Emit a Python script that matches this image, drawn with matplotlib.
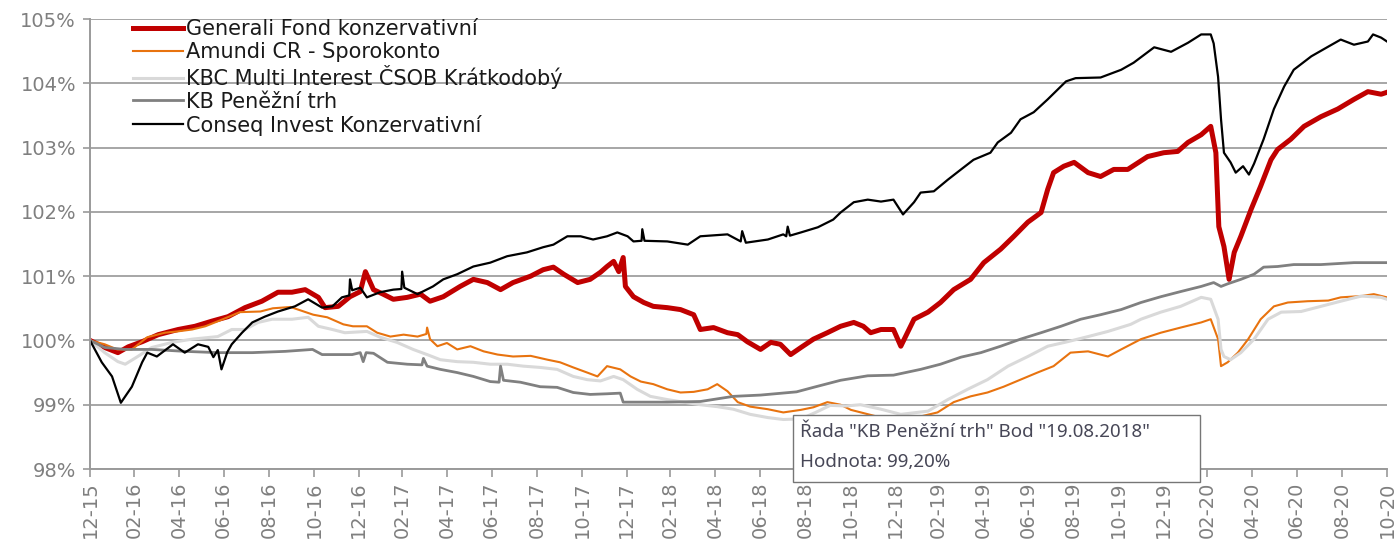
import pandas as pd
import matplotlib
matplotlib.use('Agg')
import matplotlib.pyplot as plt
from matplotlib.patches import Rectangle

# Series (values in % of the start value)
generali_dates = ['2015-12-31', '2016-01-20', '2016-02-07', '2016-02-21', '2016-03-11', '2016-04-02', '2016-04-29',
                  '2016-05-22', '2016-06-14', '2016-07-06', '2016-07-29', '2016-08-21', '2016-09-12', '2016-10-01',
                  '2016-10-19', '2016-11-06', '2016-11-15', '2016-12-03', '2016-12-19', '2017-01-02', '2017-01-09',
                  '2017-01-20', '2017-02-02', '2017-02-16', '2017-03-07', '2017-03-25', '2017-04-07', '2017-04-25',
                  '2017-05-18', '2017-06-05', '2017-06-24', '2017-07-12', '2017-07-29', '2017-08-22', '2017-09-08',
                  '2017-09-22', '2017-10-06', '2017-10-25', '2017-11-11', '2017-11-25', '2017-12-04', '2017-12-13',
                  '2017-12-20', '2017-12-26', '2017-12-29', '2018-01-09', '2018-01-23', '2018-02-05', '2018-02-24',
                  '2018-03-14', '2018-04-01', '2018-04-10', '2018-04-28', '2018-05-17', '2018-05-31', '2018-06-13',
                  '2018-07-01', '2018-07-15', '2018-07-28', '2018-08-11', '2018-08-25', '2018-09-11', '2018-09-30',
                  '2018-10-18', '2018-11-05', '2018-11-18', '2018-11-28', '2018-12-12', '2018-12-29', '2019-01-08',
                  '2019-01-26', '2019-02-14', '2019-03-03', '2019-03-21', '2019-04-13', '2019-05-01', '2019-05-24',
                  '2019-06-11', '2019-06-30', '2019-07-18', '2019-07-27', '2019-08-04', '2019-08-18', '2019-09-01',
                  '2019-09-20', '2019-10-07', '2019-10-25', '2019-11-13', '2019-12-10', '2020-01-01', '2020-01-20',
                  '2020-02-03', '2020-02-21', '2020-03-05', '2020-03-12', '2020-03-16', '2020-03-23', '2020-03-30',
                  '2020-04-06', '2020-04-15', '2020-04-29', '2020-05-12', '2020-05-26', '2020-06-04', '2020-06-22',
                  '2020-07-10', '2020-08-02', '2020-08-25', '2020-09-16', '2020-10-05', '2020-10-23', '2020-10-31']
generali_vals = [100.00, 99.89, 99.81, 99.90, 99.98, 100.09, 100.17,
                 100.22, 100.30, 100.37, 100.51, 100.61, 100.75, 100.75,
                 100.79, 100.67, 100.51, 100.53, 100.68, 100.76, 101.07,
                 100.79, 100.72, 100.64, 100.67, 100.72, 100.61, 100.68,
                 100.84, 100.95, 100.90, 100.79, 100.90, 101.00, 101.10,
                 101.14, 101.03, 100.90, 100.95, 101.06, 101.15, 101.23,
                 101.07, 101.29, 100.84, 100.68, 100.59, 100.53, 100.51,
                 100.48, 100.40, 100.17, 100.20, 100.12, 100.09, 99.98,
                 99.86, 99.97, 99.94, 99.78, 99.89, 100.02, 100.12,
                 100.22, 100.28, 100.22, 100.12, 100.17, 100.17, 99.91,
                 100.33, 100.44, 100.59, 100.79, 100.95, 101.21, 101.42,
                 101.62, 101.84, 101.99, 102.35, 102.61, 102.71, 102.77,
                 102.61, 102.55, 102.66, 102.66, 102.86, 102.92, 102.94,
                 103.08, 103.20, 103.33, 102.92, 101.77, 101.46, 100.95,
                 101.37, 101.62, 102.04, 102.40, 102.81, 102.97, 103.13,
                 103.33, 103.48, 103.60, 103.75, 103.87, 103.83, 103.86]

amundi_dates = ['2015-12-31', '2016-01-20', '2016-02-06', '2016-02-26', '2016-03-18', '2016-04-11', '2016-04-28',
                '2016-05-18', '2016-06-05', '2016-06-29', '2016-07-22', '2016-08-19', '2016-09-05', '2016-09-29',
                '2016-10-30', '2016-11-18', '2016-12-10', '2016-12-23', '2017-01-11', '2017-01-25', '2017-02-12',
                '2017-03-02', '2017-03-21', '2017-04-02', '2017-04-03', '2017-04-07', '2017-04-17', '2017-04-30',
                '2017-05-14', '2017-06-01', '2017-06-19', '2017-07-08', '2017-07-29', '2017-08-22', '2017-09-14',
                '2017-10-01', '2017-10-19', '2017-11-07', '2017-11-21', '2017-12-04', '2017-12-22', '2018-01-05',
                '2018-01-19', '2018-02-05', '2018-02-24', '2018-03-14', '2018-04-01', '2018-04-20', '2018-05-03',
                '2018-05-17', '2018-05-31', '2018-06-17', '2018-07-11', '2018-08-01', '2018-08-25', '2018-09-11',
                '2018-09-30', '2018-10-18', '2018-11-01', '2018-12-12', '2019-01-21', '2019-02-27', '2019-03-21',
                '2019-04-13', '2019-05-06', '2019-05-28', '2019-06-20', '2019-07-13', '2019-08-04', '2019-08-27',
                '2019-09-20', '2019-10-17', '2019-11-04', '2019-12-01', '2019-12-28', '2020-01-24', '2020-02-21',
                '2020-03-05', '2020-03-15', '2020-03-19', '2020-03-28', '2020-04-11', '2020-04-25', '2020-05-12',
                '2020-05-30', '2020-06-18', '2020-07-15', '2020-08-12', '2020-08-29', '2020-09-26', '2020-10-13',
                '2020-10-31']
amundi_vals = [100.00, 99.94, 99.86, 99.86, 100.05, 100.12, 100.14,
               100.17, 100.22, 100.33, 100.44, 100.45, 100.50, 100.52,
               100.40, 100.36, 100.25, 100.22, 100.22, 100.12, 100.06,
               100.09, 100.06, 100.10, 100.20, 100.02, 99.91, 99.96,
               99.86, 99.91, 99.83, 99.78, 99.75, 99.76, 99.70,
               99.66, 99.58, 99.50, 99.44, 99.60, 99.55, 99.44,
               99.36, 99.32, 99.24, 99.19, 99.20, 99.24, 99.32,
               99.21, 99.04, 98.97, 98.93, 98.88, 98.92, 98.96,
               99.04, 99.00, 98.92, 98.80, 98.78, 98.88, 99.04,
               99.13, 99.19, 99.28, 99.39, 99.50, 99.60, 99.81,
               99.83, 99.75, 99.86, 100.02, 100.12, 100.20, 100.28,
               100.33, 100.02, 99.60, 99.66, 99.81, 100.02, 100.33,
               100.53, 100.59, 100.61, 100.62, 100.67, 100.69, 100.72,
               100.67]

kbc_dates = ['2015-12-31', '2016-01-20', '2016-02-07', '2016-02-17', '2016-03-05', '2016-03-24', '2016-04-21',
             '2016-05-18', '2016-06-22', '2016-07-11', '2016-07-29', '2016-08-16', '2016-09-04', '2016-10-01',
             '2016-10-23', '2016-11-06', '2016-11-25', '2016-12-12', '2017-01-11', '2017-01-29', '2017-02-21',
             '2017-03-15', '2017-04-03', '2017-04-21', '2017-05-14', '2017-06-05', '2017-06-28', '2017-07-21',
             '2017-08-12', '2017-09-04', '2017-09-27', '2017-10-19', '2017-11-07', '2017-11-25', '2017-12-13',
             '2017-12-26', '2018-01-14', '2018-02-01', '2018-02-24', '2018-03-18', '2018-04-10', '2018-05-03',
             '2018-05-25', '2018-06-17', '2018-07-11', '2018-08-01', '2018-08-25', '2018-09-14', '2018-10-04',
             '2018-10-25', '2018-11-14', '2018-12-12', '2019-01-08', '2019-02-14', '2019-03-13', '2019-04-09',
             '2019-05-06', '2019-06-03', '2019-06-30', '2019-07-27', '2019-08-23', '2019-09-20', '2019-10-17',
             '2019-11-17', '2019-12-01', '2019-12-28', '2020-01-24', '2020-02-21', '2020-03-05', '2020-03-15',
             '2020-03-19', '2020-03-23', '2020-04-01', '2020-04-15', '2020-05-03', '2020-05-22', '2020-06-09',
             '2020-07-06', '2020-08-02', '2020-08-29', '2020-09-26', '2020-10-23', '2020-10-31']
kbc_vals = [100.00, 99.81, 99.67, 99.63, 99.75, 99.89, 99.97,
            100.02, 100.06, 100.17, 100.17, 100.28, 100.33, 100.33,
            100.36, 100.22, 100.17, 100.12, 100.14, 100.05, 99.97,
            99.86, 99.78, 99.70, 99.67, 99.66, 99.63, 99.63,
            99.60, 99.58, 99.55, 99.44, 99.39, 99.37, 99.44,
            99.39, 99.24, 99.13, 99.08, 99.04, 99.00, 98.97,
            98.93, 98.85, 98.80, 98.77, 98.78, 98.88, 98.99,
            98.98, 99.00, 98.93, 98.85, 98.90, 99.08, 99.24,
            99.39, 99.60, 99.75, 99.91, 99.98, 100.06, 100.14,
            100.25, 100.33, 100.44, 100.53, 100.67, 100.64, 100.33,
            99.86, 99.75, 99.70, 99.81, 100.02, 100.33, 100.44,
            100.45, 100.53, 100.61, 100.69, 100.67, 100.64]

kb_dates = ['2015-12-31', '2016-01-20', '2016-02-17', '2016-03-24', '2016-05-08', '2016-06-22', '2016-08-08',
            '2016-09-22', '2016-10-29', '2016-11-11', '2016-12-22', '2017-01-02', '2017-01-06', '2017-01-10',
            '2017-01-20', '2017-02-08', '2017-03-07', '2017-03-27', '2017-03-29', '2017-04-03', '2017-04-21',
            '2017-05-14', '2017-06-05', '2017-06-28', '2017-07-10', '2017-07-12', '2017-07-16', '2017-08-08',
            '2017-09-04', '2017-09-27', '2017-10-19', '2017-11-11', '2017-12-04', '2017-12-22', '2017-12-26',
            '2018-02-24', '2018-04-10', '2018-05-25', '2018-07-01', '2018-08-19', '2018-09-11', '2018-10-18',
            '2018-11-24', '2018-12-29', '2019-02-04', '2019-03-03', '2019-03-31', '2019-04-27', '2019-05-24',
            '2019-06-20', '2019-07-18', '2019-08-14', '2019-09-10', '2019-10-07', '2019-11-04', '2019-12-01',
            '2019-12-28', '2020-01-24', '2020-02-21', '2020-03-09', '2020-03-19', '2020-03-28', '2020-04-15',
            '2020-05-03', '2020-05-16', '2020-06-04', '2020-06-26', '2020-08-02', '2020-09-16', '2020-10-31']
kb_vals = [100.00, 99.89, 99.86, 99.86, 99.83, 99.81, 99.81,
           99.83, 99.86, 99.78, 99.78, 99.81, 99.67, 99.81,
           99.80, 99.66, 99.63, 99.62, 99.72, 99.60, 99.55,
           99.50, 99.44, 99.36, 99.35, 99.60, 99.38, 99.35,
           99.28, 99.27, 99.19, 99.16, 99.17, 99.18, 99.04,
           99.04, 99.05, 99.13, 99.15, 99.20, 99.27, 99.38,
           99.45, 99.46, 99.55, 99.63, 99.74, 99.81, 99.91,
           100.02, 100.12, 100.22, 100.33, 100.40, 100.48, 100.59,
           100.68, 100.76, 100.84, 100.90, 100.84, 100.88, 100.95,
           101.03, 101.14, 101.15, 101.18, 101.18, 101.21, 101.21]

conseq_dates = ['2015-12-31', '2016-01-16', '2016-01-30', '2016-02-11', '2016-02-26', '2016-03-11', '2016-03-18',
                '2016-03-31', '2016-04-22', '2016-05-08', '2016-05-26', '2016-06-09', '2016-06-16', '2016-06-22',
                '2016-06-27', '2016-07-05', '2016-07-11', '2016-07-25', '2016-08-08', '2016-08-25', '2016-09-12',
                '2016-10-05', '2016-10-23', '2016-11-11', '2016-11-25', '2016-12-08', '2016-12-18', '2016-12-19',
                '2016-12-22', '2017-01-02', '2017-01-11', '2017-01-29', '2017-02-16', '2017-02-27', '2017-02-28',
                '2017-03-03', '2017-03-21', '2017-04-11', '2017-04-25', '2017-05-14', '2017-06-05', '2017-06-28',
                '2017-07-21', '2017-08-17', '2017-09-08', '2017-09-22', '2017-10-11', '2017-10-29', '2017-11-15',
                '2017-12-04', '2017-12-18', '2018-01-01', '2018-01-09', '2018-01-20', '2018-01-21', '2018-01-24',
                '2018-02-24', '2018-03-24', '2018-04-10', '2018-05-17', '2018-06-04', '2018-06-06', '2018-06-11',
                '2018-07-11', '2018-08-01', '2018-08-05', '2018-08-07', '2018-08-10', '2018-08-25', '2018-09-17',
                '2018-10-08', '2018-10-18', '2018-11-05', '2018-11-24', '2018-12-12', '2018-12-29', '2019-01-11',
                '2019-01-26', '2019-02-04', '2019-02-22', '2019-03-13', '2019-03-31', '2019-04-17', '2019-05-10',
                '2019-05-20', '2019-06-07', '2019-06-20', '2019-07-08', '2019-07-27', '2019-08-21', '2019-09-03',
                '2019-10-07', '2019-11-04', '2019-11-21', '2019-12-19', '2020-01-11', '2020-02-03', '2020-02-21',
                '2020-03-05', '2020-03-09', '2020-03-15', '2020-03-19', '2020-03-23', '2020-04-01', '2020-04-08',
                '2020-04-18', '2020-04-26', '2020-05-03', '2020-05-16', '2020-05-30', '2020-06-13', '2020-06-26',
                '2020-07-20', '2020-08-12', '2020-08-29', '2020-09-16', '2020-10-05', '2020-10-12', '2020-10-23',
                '2020-10-31']
conseq_vals = [100.00, 99.66, 99.44, 99.03, 99.28, 99.66, 99.81,
               99.75, 99.94, 99.81, 99.94, 99.90, 99.74, 99.85,
               99.55, 99.82, 99.94, 100.12, 100.28, 100.37, 100.45,
               100.53, 100.64, 100.51, 100.53, 100.67, 100.70, 100.95,
               100.78, 100.82, 100.67, 100.75, 100.79, 100.80, 101.07,
               100.82, 100.72, 100.84, 100.95, 101.03, 101.15, 101.21,
               101.31, 101.37, 101.45, 101.49, 101.62, 101.62, 101.57,
               101.62, 101.68, 101.62, 101.54, 101.55, 101.73, 101.55,
               101.54, 101.49, 101.62, 101.65, 101.54, 101.70, 101.52,
               101.57, 101.65, 101.62, 101.77, 101.63, 101.68, 101.76,
               101.88, 101.99, 102.15, 102.19, 102.16, 102.19, 101.96,
               102.15, 102.30, 102.32, 102.50, 102.66, 102.81, 102.92,
               103.08, 103.23, 103.44, 103.55, 103.75, 104.03, 104.08,
               104.09, 104.21, 104.32, 104.56, 104.49, 104.63, 104.76,
               104.76, 104.62, 104.10, 103.44, 102.92, 102.77, 102.61,
               102.71, 102.58, 102.75, 103.13, 103.60, 103.95, 104.21,
               104.42, 104.57, 104.68, 104.60, 104.65, 104.76, 104.71,
               104.65]

series = [
    ('Generali Fond konzervativní', generali_dates, generali_vals, '#c00000', 3.6),
    ('Amundi CR - Sporokonto', amundi_dates, amundi_vals, '#e8730f', 1.5),
    ('KBC Multi Interest ČSOB Krátkodobý', kbc_dates, kbc_vals, '#d9d9d9', 2.2),
    ('KB Peněžní trh', kb_dates, kb_vals, '#808080', 2.0),
    ('Conseq Invest Konzervativní', conseq_dates, conseq_vals, '#000000', 1.6),
]

W, H = 1396, 543
fig = plt.figure(figsize=(W / 100, H / 100), dpi=100)
ax = fig.add_axes([90 / W, 1 - 469 / H, (1387 - 90) / W, (469 - 19) / H])

for name, d, v, c, lw in series:
    ax.plot(pd.to_datetime(d), v, color=c, lw=lw, label=name, solid_joinstyle='round')

tick_dates = [pd.Timestamp(2015, 12, 1) + pd.DateOffset(months=2 * k) + pd.offsets.MonthEnd(0) for k in range(30)]
ax.set_xticks(tick_dates)
ax.set_xticklabels([t.strftime('%m-%y') for t in tick_dates], rotation=90)
ax.set_xlim(pd.Timestamp('2015-12-31'), pd.Timestamp('2020-10-31'))

ax.set_ylim(98, 105)
ax.set_yticks(range(98, 106))
ax.set_yticklabels([f'{t}%' for t in range(98, 106)])

grid_c = '#a6a6a6'
ax.grid(axis='y', color=grid_c, lw=1.4)
ax.set_axisbelow(True)
for s in ['top', 'right']:
    ax.spines[s].set_visible(False)
for s in ['left', 'bottom']:
    ax.spines[s].set_color('#9a9a9a')
    ax.spines[s].set_linewidth(1.4)
ax.tick_params(axis='both', colors='#9a9a9a', labelcolor='#7f7f7f', labelsize=14, width=1.2)
ax.tick_params(axis='y', length=5, pad=5)
ax.tick_params(axis='x', length=6, pad=3)

leg = ax.legend(loc='upper left', bbox_to_anchor=(133 / W, 1 - 19 / H), bbox_transform=fig.transFigure,
                frameon=False, fontsize=15, handlelength=2.4, handletextpad=0.15, labelspacing=0.14,
                borderpad=0, borderaxespad=0)
for t in leg.get_texts():
    t.set_color('#1a1a1a')

# tooltip box
fig.add_artist(Rectangle((793 / W, 1 - 482 / H), 407 / W, 67 / H, transform=fig.transFigure,
                         facecolor='white', edgecolor='#767676', lw=1.0, zorder=5))
fig.text(800 / W, 1 - 432 / H, 'Řada "KB Peněžní trh" Bod "19.08.2018"', va='center', ha='left',
         fontsize=13.5, family='Noto Sans', color='#474757', zorder=6)
fig.text(800 / W, 1 - 462 / H, 'Hodnota: 99,20%', va='center', ha='left',
         fontsize=13.5, family='Noto Sans', color='#474757', zorder=6)

fig.savefig('out.png', dpi=100)
